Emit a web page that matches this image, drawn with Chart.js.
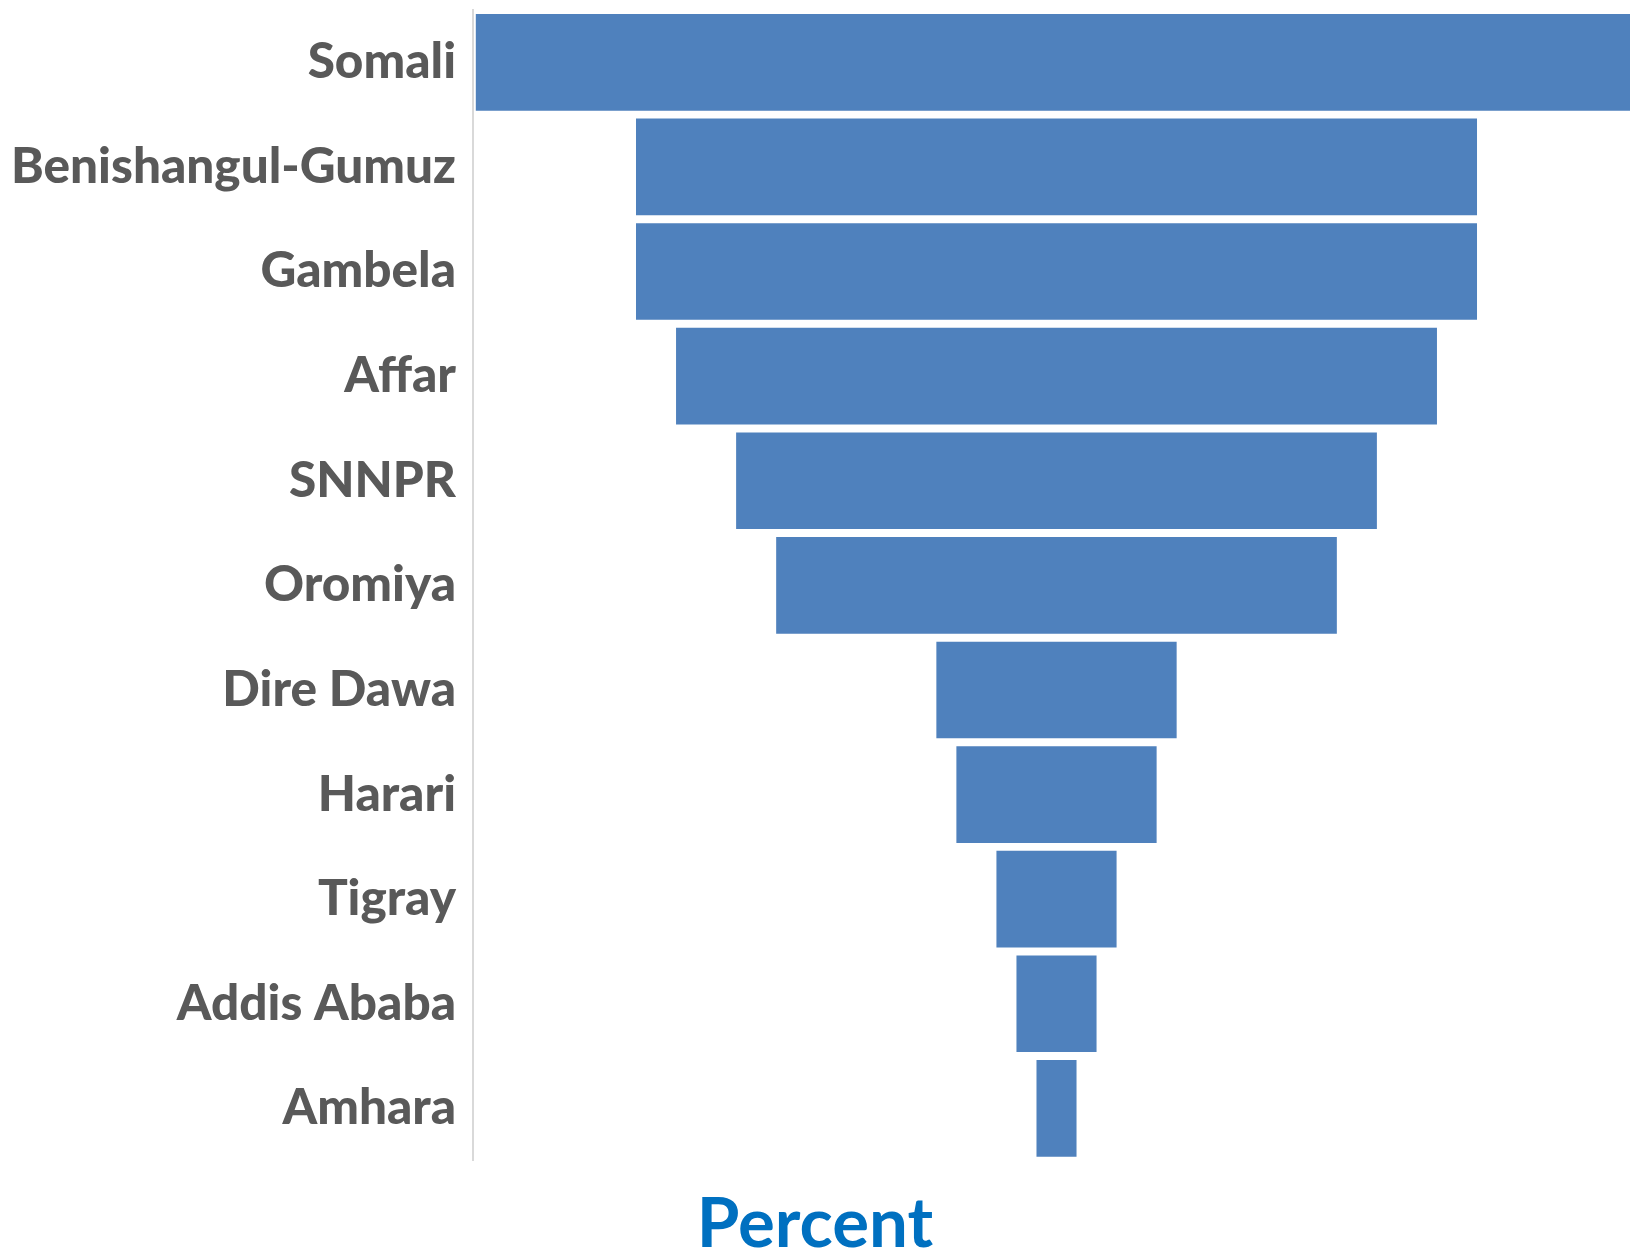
<!DOCTYPE html>
<html>
<head>
<meta charset="utf-8">
<title>Percent by region</title>
<script src="https://cdn.jsdelivr.net/npm/chart.js@4.4.1/dist/chart.umd.min.js"></script>
<style>
  html, body { margin: 0; padding: 0; background: #ffffff; overflow: hidden; }
  #wrap { position: relative; width: 1630px; height: 1249px; }
</style>
</head>
<body>
<div id="wrap"><canvas id="funnel"></canvas></div>
<script>
// Regions, ordered from the widest funnel segment to the narrowest
const regions = [
  'Somali', 'Benishangul-Gumuz', 'Gambela', 'Affar', 'SNNPR', 'Oromiya',
  'Dire Dawa', 'Harari', 'Tigray', 'Addis Ababa', 'Amhara'
];

// Percent for each region
const percents = [29, 21, 21, 19, 16, 14, 6, 5, 3, 2, 1];

// Each segment is centred on zero: it spans -p/2 .. +p/2
const segments = percents.map(p => [-p / 2, p / 2]);

const labelFont = { family: 'Lato', weight: '900', size: 49.5 };

new Chart(document.getElementById('funnel'), {
  type: 'bar',
  data: {
    labels: regions,
    datasets: [{
      label: 'Percent',
      data: segments,
      backgroundColor: '#4f81bd',
      borderWidth: 0,
      borderSkipped: false,
      barPercentage: 0.924,
      categoryPercentage: 1.0
    }]
  },
  options: {
    indexAxis: 'y',
    responsive: true,
    maintainAspectRatio: false,
    animation: false,
    layout: { padding: { top: 10, right: 0, bottom: 0, left: 0 } },
    scales: {
      x: {
        display: false,
        min: -14.57,
        max: 14.32
      },
      y: {
        grid: { display: false, drawTicks: false },
        border: { display: true, color: '#d9d9d9', width: 2 },
        ticks: {
          color: '#595959',
          font: labelFont,
          padding: 17
        },
        afterFit(scale) {
          // fixed gutter for the region names; no extra room above/below
          scale.width = 473;
          scale.paddingTop = 0;
          scale.paddingBottom = 0;
        }
      }
    },
    plugins: {
      legend: { display: false },
      tooltip: { enabled: false },
      title: {
        display: true,
        position: 'bottom',
        text: 'Percent',
        color: '#0070c0',
        font: { family: 'Lato', weight: 'bold', size: 69, lineHeight: 0.7 },
        padding: { top: 40, bottom: 0 }
      }
    }
  }
});
</script>
</body>
</html>
